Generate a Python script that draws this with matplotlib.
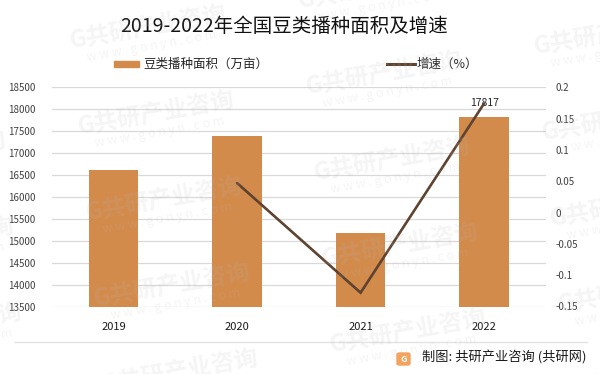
import matplotlib
matplotlib.use('Agg')
import numpy as np
import matplotlib.pyplot as plt
from matplotlib.patches import Rectangle, FancyBboxPatch
from matplotlib.lines import Line2D

plt.rcParams['font.family'] = ['Noto Sans CJK SC', 'DejaVu Sans']

# ---- data ----
years = ['2019', '2020', '2021', '2022']
area = [16620, 17400, 15180, 17817]          # 万亩
growth_years = ['2020', '2021', '2022']
growth = [0.047, -0.128, 0.174]             # 增速
left_ticks = [13500, 14000, 14500, 15000, 15500, 16000, 16500, 17000, 17500, 18000, 18500]
right_ticks = [0.2, 0.15, 0.1, 0.05, 0, -0.05, -0.1, -0.15]
right_labels = ['0.2', '0.15', '0.1', '0.05', '0', '-0.05', '-0.1', '-0.15']
title = '2019-2022年全国豆类播种面积及增速'
bar_label = '豆类播种面积（万亩）'
line_label = '增速（%）'
source = '制图: 共研产业咨询 (共研网)'
wm_text = 'G共研产业咨询'
wm_url = 'w w w . g o n y n . c o m'

BAR_C = '#D38B4C'
LINE_C = '#5E4330'
W, H = 600, 374

fig = plt.figure(figsize=(6, 3.74), dpi=100)
fig.patch.set_facecolor('white')

def fx(px):
    return px / W

def fy(py):
    return 1 - py / H

ax = fig.add_axes([fx(52), fy(306.5), fx(545.75) - fx(52), fy(87.3) - fy(306.5)])
xpos = np.arange(len(years))
ax.bar(xpos, area, width=0.4, color=BAR_C, zorder=2)
ax.set_xlim(-0.5, len(years) - 0.5)
ax.set_ylim(left_ticks[0], left_ticks[-1])
ax.set_yticks(left_ticks)
ax.set_yticklabels([str(t) for t in left_ticks], fontsize=7, color='#404040')
ax.set_xticks(xpos)
ax.set_xticklabels(years, fontsize=8, color='#1a1a1a')
ax.tick_params(axis='y', length=0, pad=12)
ax.tick_params(axis='x', length=0, pad=11)
ax.grid(axis='y', color='#D9D9D9', lw=0.9)
ax.set_axisbelow(True)
for s in ax.spines.values():
    s.set_visible(False)

ax.annotate(str(area[-1]), xy=(xpos[-1], area[-1]), xytext=(0, 10),
            textcoords='offset points', ha='center', va='center',
            fontsize=7.5, color='#262626', zorder=5)

ax2 = ax.twinx()
gx = [years.index(y) for y in growth_years]
ax2.plot(gx, growth, color=LINE_C, lw=1.9, solid_capstyle='round',
         solid_joinstyle='miter', zorder=4)
ax2.set_ylim(right_ticks[-1], right_ticks[0])
ax2.set_yticks(right_ticks)
ax2.set_yticklabels(right_labels, fontsize=7, color='#404040')
ax2.tick_params(axis='y', length=0, pad=7)
for s in ax2.spines.values():
    s.set_visible(False)

# faint watermark pattern (tiled, as in the reference)
ang = 10.0
ca, sa = np.cos(np.radians(ang)), np.sin(np.radians(ang))
for i in range(-3, 4):
    for j in range(-3, 4):
        cx = 400 + 228 * i + 8 * j
        cy = 246 - 40 * i + 86 * j
        if -120 < cx < 720 and -40 < cy < 420:
            fig.text(fx(cx), fy(cy), wm_text, ha='center', va='center', rotation=ang,
                     rotation_mode='anchor', fontsize=17, fontweight='bold',
                     color='#BBBBBB', alpha=0.15, zorder=10)
            ux, uy = cx + 18 * sa, cy + 18 * ca
            fig.text(fx(ux), fy(uy), wm_url, ha='center', va='center', rotation=ang,
                     rotation_mode='anchor', fontsize=9,
                     color='#BBBBBB', alpha=0.15, zorder=10)

# title
fig.text(fx(284.5), fy(26.5), title, ha='center', va='center', fontsize=14, color='#111111')

# legend (manual)
fig.patches.append(Rectangle((fx(114), fy(67)), fx(139) - fx(114), fy(61) - fy(67),
                             transform=fig.transFigure, color=BAR_C))
fig.text(fx(143), fy(64.5), bar_label, ha='left', va='center', fontsize=9, color='#262626')
fig.lines.append(Line2D([fx(387), fx(415)], [fy(64), fy(64)], transform=fig.transFigure,
                        color=LINE_C, lw=2.2))
fig.text(fx(417), fy(64.5), line_label, ha='left', va='center', fontsize=9, color='#262626')

# separator and source
fig.lines.append(Line2D([fx(15), fx(587)], [fy(342), fy(342)], transform=fig.transFigure,
                        color='#E3E3E3', lw=1.0))
fig.patches.append(FancyBboxPatch((fx(397), fy(365)), fx(410) - fx(397), fy(353) - fy(365),
                                  boxstyle='round,pad=0.0,rounding_size=0.004',
                                  transform=fig.transFigure, color='#F4A25E'))
fig.text(fx(403.5), fy(359), 'G', ha='center', va='center', fontsize=6.5,
         color='white', fontweight='bold')
fig.text(fx(587), fy(358), source, ha='right', va='center', fontsize=9.5, color='#1a1a1a')

fig.savefig('out.png', dpi=100)
